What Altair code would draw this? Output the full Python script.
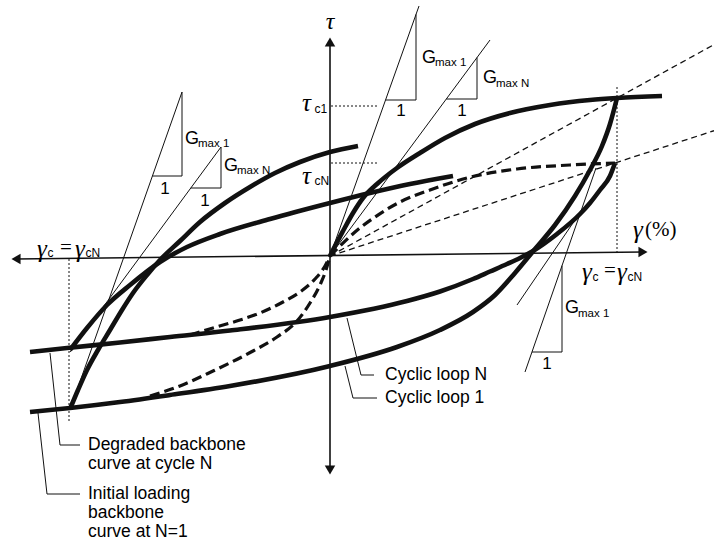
import altair as alt
import pandas as pd

# ---------------------------------------------------------------
# Shear stress (tau) vs shear strain (gamma) schematic:
# backbone curves, cyclic loops 1 and N, Gmax tangents and secants.
# Units are arbitrary schematic units (origin at 0, 0).
# ---------------------------------------------------------------

# loop tips
R1 = (2.87, 1.58)     # (gamma_c, tau_c1)
RN = (2.85, 0.93)     # (gamma_cN, tau_cN)

# initial loading backbone (N=1), positive branch - thick solid
bb1_g = [0, 0.05, 0.13, 0.23, 0.33, 0.47, 0.67, 0.90, 1.15, 1.45, 1.80, 2.20, 2.60, 2.87, 3.32]
bb1_t = [0, 0.10, 0.25, 0.43, 0.58, 0.72, 0.88, 1.03, 1.18, 1.32, 1.43, 1.51, 1.56, 1.58, 1.60]

# degraded backbone (cycle N), positive branch - thick dashed
bbN_g = [0, 0.10, 0.25, 0.45, 0.70, 1.00, 1.37, 1.87, 2.40, 2.85]
bbN_t = [0, 0.10, 0.24, 0.39, 0.54, 0.66, 0.78, 0.87, 0.91, 0.93]

# negative backbone branches - thick dashed
bb1_neg_g = [-1.80, -1.50, -1.17, -0.77, -0.53, -0.33, -0.20, -0.10, -0.04, 0]
bb1_neg_t = [-1.40, -1.30, -1.15, -0.95, -0.81, -0.65, -0.47, -0.29, -0.14, 0]
bbN_neg_g = [-1.40, -1.17, -0.90, -0.70, -0.47, -0.30, -0.15, -0.05, 0]
bbN_neg_t = [-0.79, -0.72, -0.64, -0.57, -0.46, -0.36, -0.23, -0.10, 0]

# cyclic loop 1: unloading branch and reloading branch
loop1_dn_g = [-3.00, -2.60, -2.10, -1.60, -1.00, 0.00, 0.67, 1.10, 1.43, 1.65, 1.85, 2.05,
              2.25, 2.45, 2.60, 2.72, 2.80, 2.87]
loop1_dn_t = [-1.56, -1.52, -1.46, -1.39, -1.30, -1.10, -0.91, -0.74, -0.56, -0.39, -0.17, 0.07,
              0.31, 0.60, 0.86, 1.10, 1.32, 1.58]
loop1_up_g = [-2.60, -2.52, -2.43, -2.32, -2.20, -2.08, -1.97, -1.83, -1.70, -1.50, -1.30,
              -1.05, -0.80, -0.55, -0.30, 0.00, 0.28]
loop1_up_t = [-1.53, -1.34, -1.14, -0.94, -0.74, -0.54, -0.37, -0.19, -0.04, 0.15, 0.34,
              0.53, 0.69, 0.83, 0.94, 1.04, 1.10]

# cyclic loop N: unloading branch and reloading branch
loopN_dn_g = [-3.00, -2.63, -2.10, -1.60, -1.00, 0.00, 0.77, 1.10, 1.43, 1.60, 1.77, 1.90,
              2.03, 2.27, 2.50, 2.60, 2.70, 2.80, 2.85]
loopN_dn_t = [-0.96, -0.92, -0.865, -0.81, -0.745, -0.61, -0.45, -0.355, -0.23, -0.155, -0.08,
              -0.02, 0.05, 0.22, 0.42, 0.53, 0.66, 0.80, 0.93]
loopN_up_g = [-2.60, -2.43, -2.23, -2.00, -1.70, -1.43, -1.10, -0.60, 0.00, 0.40, 0.80, 1.23]
loopN_up_t = [-0.94, -0.72, -0.49, -0.29, -0.06, 0.09, 0.22, 0.37, 0.53, 0.63, 0.72, 0.80]

# Gmax tangent lines (two end points each)
tangents = {
    "left_g1": [(-2.60, -1.54), (-1.48, 1.64)],
    "left_gN": [(-2.60, -0.96), (-1.09, 1.09)],
    "orig_g1": [(0.0, 0.0), (0.89, 2.50)],
    "orig_gN": [(0.0, 0.0), (1.60, 2.16)],
    "right_g1": [(2.66, 0.88), (1.95, -1.16)],
    "right_gN": [(2.45, 0.36), (1.87, -0.49)],
}
# right-angle corners of the slope triangles
triangle_corners = {
    "left_g1": (-1.48, 0.80),
    "left_gN": (-1.09, 0.68),
    "orig_g1": (0.86, 1.56),
    "orig_gN": (1.47, 1.57),
    "right_g1": (2.32, -0.96),
}

G_EDGE = 3.84   # right edge of the drawing in gamma units
X_DOMAIN = [-3.30, 3.84]
Y_DOMAIN = [-2.86, 2.56]


def series(name, gs, ts):
    return pd.DataFrame({"name": name, "g": gs, "t": ts, "i": range(len(gs))})


def on_line(line, t=None, g=None):
    (g1, t1), (g2, t2) = line
    s = (t2 - t1) / (g2 - g1)
    if t is not None:
        return g1 + (t - t1) / s
    return t1 + s * (g - g1)


thick_solid = pd.concat([
    series("bb1", bb1_g, bb1_t),
    series("loop1_dn", loop1_dn_g, loop1_dn_t),
    series("loop1_up", loop1_up_g, loop1_up_t),
    series("loopN_dn", loopN_dn_g, loopN_dn_t),
    series("loopN_up", loopN_up_g, loopN_up_t),
])

thick_dashed = pd.concat([
    series("bbN", bbN_g, bbN_t),
    series("bb1_neg", bb1_neg_g, bb1_neg_t),
    series("bbN_neg", bbN_neg_g, bbN_neg_t),
])

# secants from the origin through the loop tips
secants = pd.concat([
    series("sec1", [0, G_EDGE], [0, R1[1] / R1[0] * G_EDGE]),
    series("secN", [0, G_EDGE], [0, RN[1] / RN[0] * G_EDGE]),
])

thin_parts = []
for key, pts in tangents.items():
    thin_parts.append(series(key, [p[0] for p in pts], [p[1] for p in pts]))
for key, (gc, tc) in triangle_corners.items():
    line = tangents[key]
    thin_parts.append(series("tri_" + key,
                             [on_line(line, t=tc), gc, gc],
                             [tc, tc, on_line(line, g=gc)]))
# leader lines for the notes
thin_parts += [
    series("lead_deg", [-2.80, -2.70, -2.50], [-0.97, -1.89, -1.89]),
    series("lead_init", [-2.92, -2.83, -2.50], [-1.57, -2.38, -2.38]),
    series("lead_cycN", [0.17, 0.31, 0.44], [-0.62, -1.19, -1.19]),
    series("lead_cyc1", [0.15, 0.23, 0.47], [-1.10, -1.42, -1.42]),
]
thin_solid = pd.concat(thin_parts)

dotted = pd.concat([
    series("v_right", [R1[0], R1[0]], [0.03, 1.70]),
    series("v_left", [-2.61, -2.61], [-0.03, -1.67]),
    series("h_tc1", [0.01, 0.47], [1.50, 1.50]),
    series("h_tcN", [0.01, 0.47], [RN[1], RN[1]]),
])

axes_lines = pd.concat([
    series("gamma_axis", [-3.14, 3.13], [-0.03, 0.04]),
    series("tau_axis", [0, 0], [-2.14, 2.14]),
])
arrow_heads = pd.DataFrame({
    "g": [-3.14, 3.13, 0, 0],
    "t": [-0.03, 0.04, 2.14, -2.14],
    "shape": ["triangle-left", "triangle-right", "triangle-up", "triangle-down"],
})

# text labels
notes = pd.DataFrame({
    "text": ["Cyclic loop N", "Cyclic loop 1", "Degraded backbone", "curve at cycle N",
             "Initial loading", "backbone", "curve at N=1"],
    "g": [0.55, 0.55, -2.42, -2.42, -2.42, -2.42, -2.42],
    "t": [-1.19, -1.42, -1.89, -2.08, -2.38, -2.57, -2.76],
})
g_letters = pd.DataFrame({
    "text": ["G"] * 5,
    "g": [-1.45, -1.06, 0.92, 1.53, 2.35],
    "t": [1.17, 0.90, 1.98, 1.78, -0.52],
})
g_subs = pd.DataFrame({
    "text": ["max 1", "max N", "max 1", "max N", "max 1"],
    "g": [-1.32, -0.93, 1.05, 1.66, 2.48],
    "t": [1.12, 0.85, 1.93, 1.72, -0.58],
})
ones = pd.DataFrame({
    "text": ["1"] * 5,
    "g": [-1.65, -1.25, 0.71, 1.32, 2.17],
    "t": [0.67, 0.55, 1.45, 1.45, -1.08],
})
greek = pd.DataFrame({
    "text": ["τ", "τ", "γ", "γ", "γ", "γ", "γ"],
    "g": [-0.28, -0.28, -2.93, -2.55, 2.52, 2.87, 3.03],
    "t": [1.53, 0.80, 0.07, 0.07, -0.16, -0.16, 0.26],
})
greek_subs = pd.DataFrame({
    "text": ["c1", "cN", "c", "cN", "c", "cN"],
    "g": [-0.155, -0.155, -2.825, -2.445, 2.625, 2.975],
    "t": [1.47, 0.75, 0.03, 0.03, -0.21, -0.21],
})
serif_plain = pd.DataFrame({
    "text": ["=", "=", "(%)"],
    "g": [-2.70, 2.74, 3.15],
    "t": [0.08, -0.15, 0.26],
})
tau_title = pd.DataFrame({"text": ["τ"], "g": [0.0], "t": [2.34]})

xs = alt.Scale(domain=X_DOMAIN, nice=False, zero=False)
ys = alt.Scale(domain=Y_DOMAIN, nice=False, zero=False)
X = alt.X("g:Q", scale=xs, axis=None)
Y = alt.Y("t:Q", scale=ys, axis=None)
INK = "#111111"


def lines(df, **mark):
    return alt.Chart(df).mark_line(color=INK, clip=True, **mark).encode(
        x=X, y=Y, detail="name:N", order="i:Q")


def texts(df, **mark):
    return alt.Chart(df).mark_text(color="#000000", baseline="middle", **mark).encode(
        x=X, y=Y, text="text:N")


layers = [
    lines(dotted, strokeWidth=1, strokeDash=[2, 2]),
    lines(secants, strokeWidth=1.3, strokeDash=[6, 4]),
    lines(thin_solid, strokeWidth=1),
    lines(axes_lines, strokeWidth=1.6),
    alt.Chart(arrow_heads).mark_point(filled=True, color=INK, size=110, opacity=1).encode(
        x=X, y=Y, shape=alt.Shape("shape:N", scale=None)),
    lines(thick_dashed, strokeWidth=3.2, strokeDash=[10, 5], interpolate="monotone"),
    lines(thick_solid, strokeWidth=4.6, interpolate="monotone"),
    texts(notes, font="Liberation Sans", fontSize=17.5, align="left"),
    texts(g_letters, font="Liberation Sans", fontSize=18, align="left"),
    texts(g_subs, font="Liberation Sans", fontSize=11.5, align="left"),
    texts(ones, font="Liberation Sans", fontSize=17, align="center"),
    texts(greek, font="Liberation Serif", fontStyle="italic", fontSize=25, align="left"),
    texts(greek_subs, font="Liberation Sans", fontSize=12, align="left"),
    texts(serif_plain, font="Liberation Serif", fontSize=21, align="left"),
    texts(tau_title, font="Liberation Serif", fontStyle="italic", fontSize=24, align="center"),
]

chart = alt.layer(*layers).properties(
    width=714, height=542, padding=0, autosize="none", background="white"
).configure_view(stroke=None)

chart.save("out.html", embed_options={"renderer": "svg", "actions": False})
